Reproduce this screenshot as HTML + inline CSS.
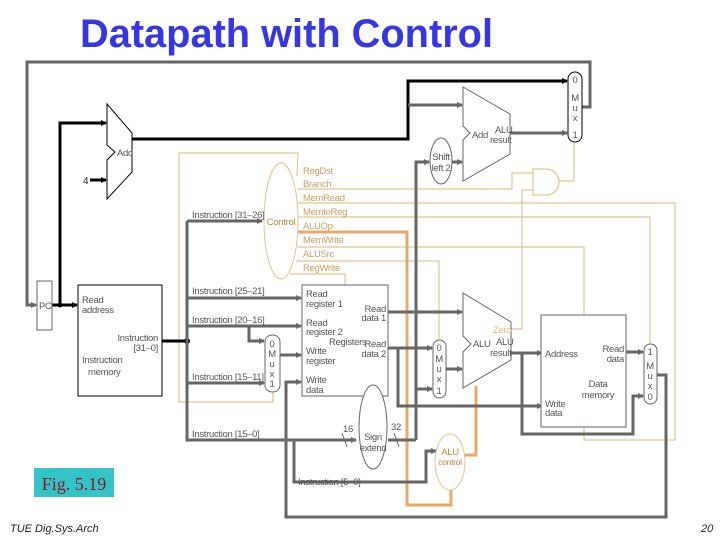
<!DOCTYPE html>
<html><head><meta charset="utf-8"><style>
html,body{margin:0;padding:0;background:#fff}
svg{display:block}
text{font-family:"Liberation Sans",sans-serif}
.s{font-size:9.5px;fill:#555;letter-spacing:-0.3px}
.c{font-size:9.5px;fill:#c9a060;letter-spacing:-0.3px}
.k{fill:none;stroke:#000;stroke-width:3}
.g{fill:none;stroke:#666;stroke-width:3}
.t{fill:none;stroke:#e2c48e;stroke-width:1.2}
.o{fill:none;stroke:#eaa866;stroke-width:3}
.b{fill:#fff;stroke:#666;stroke-width:1}
</style></head><body>
<svg width="720" height="540" viewBox="0 0 720 540" xmlns="http://www.w3.org/2000/svg">
<defs>
<marker id="ag" markerWidth="6" markerHeight="6" refX="5" refY="3" orient="auto" markerUnits="userSpaceOnUse"><path d="M0,0L6,3L0,6z" fill="#666"/></marker>
<marker id="ak" markerWidth="6" markerHeight="6" refX="5" refY="3" orient="auto" markerUnits="userSpaceOnUse"><path d="M0,0L6,3L0,6z" fill="#000"/></marker>
</defs>
<text x="80" y="47" font-size="40" font-weight="bold" fill="#3636e6" textLength="413" lengthAdjust="spacingAndGlyphs" style="font-family:'Liberation Sans',sans-serif">Datapath with Control</text>

<!-- tan control lines -->
<path class="t" d="M297,176 L298,153 L179,153 L179,402 L273,402 L273,392"/>
<path class="t" d="M297,189 L512,189 L512,173 L533,173"/>
<path class="t" d="M533,190 L522,190 L522,329 L500,329"/>
<path class="t" d="M298,203 L675,203 L675,440 L584,440 L584,427"/>
<path class="t" d="M298,217 L650,217 L650,344"/>
<path class="t" d="M298,247 L584,247 L584,315"/>
<path class="t" d="M296,261 L439,261 L439,340"/>
<path class="t" d="M290,274 L345,274 L345,285"/>
<path class="t" d="M557,181 L574,181 L574,142"/>
<path class="o" d="M296,232 L407,232 L407,505 L451,505 L451,490"/>
<path class="o" d="M476,386 L476,455 L463,455"/>

<!-- outer gray loop -->
<path class="g" d="M582,107 L590,107 L590,62 L27,62 L27,305 L36,305" marker-end="url(#ag)"/>
<!-- black PC path -->
<path class="k" d="M52,305 L77,305" marker-end="url(#ak)"/>
<path class="k" d="M60,305 L60,123 L106,123" marker-end="url(#ak)"/>
<path class="k" d="M90,180 L106,180" marker-end="url(#ak)"/>
<path class="k" d="M132,139 L408,139 L408,81 L567,81" marker-end="url(#ak)"/>
<path class="k" d="M162,341 L187,341"/>
<circle cx="187" cy="341" r="3" fill="#000"/>
<circle cx="60" cy="305" r="2.5" fill="#000"/>
<path class="g" d="M408,105 L462,105" marker-end="url(#ag)"/>
<path class="g" d="M510,133 L567,133" marker-end="url(#ag)"/>
<path class="g" d="M452,162 L462,162" marker-end="url(#ag)"/>
<path class="g" d="M416,440 L416,162 L429,162" marker-end="url(#ag)"/>
<path class="g" d="M416,389 L432,389" marker-end="url(#ag)"/>
<!-- instruction bus -->
<path class="g" d="M187,221 L187,440 L356,440" marker-end="url(#ag)"/>
<path class="g" d="M187,221 L262,221" marker-end="url(#ag)"/>
<path class="g" d="M187,298 L301,298" marker-end="url(#ag)"/>
<path class="g" d="M187,326 L301,326" marker-end="url(#ag)"/>
<path class="g" d="M249,326 L249,341 L264,341" marker-end="url(#ag)"/>
<path class="g" d="M187,383 L264,383" marker-end="url(#ag)"/>
<path class="g" d="M280,355 L301,355" marker-end="url(#ag)"/>
<path class="g" d="M294,440 L294,482 L426,482 L426,451 L436,451" marker-end="url(#ag)"/>
<path class="g" d="M388,440 L416,440"/>
<path class="g" d="M657,375 L666,375 L666,517 L286,517 L286,382 L301,382" marker-end="url(#ag)"/>
<path class="g" d="M388,312 L462,312" marker-end="url(#ag)"/>
<path class="g" d="M388,348 L432,348" marker-end="url(#ag)"/>
<path class="g" d="M398,348 L398,406 L542,406" marker-end="url(#ag)"/>
<path class="g" d="M446,369 L462,369" marker-end="url(#ag)"/>
<path class="g" d="M511,353 L542,353" marker-end="url(#ag)"/>
<path class="g" d="M522,353 L522,434 L633,434 L633,396 L643,396" marker-end="url(#ag)"/>
<path class="g" d="M626,352 L643,352" marker-end="url(#ag)"/>
<line x1="342" y1="433" x2="347" y2="447" stroke="#666"/>
<line x1="394" y1="433" x2="399" y2="447" stroke="#666"/>

<!-- components -->
<rect x="37" y="281" width="15" height="49" class="b" stroke="#000"/>
<text x="39" y="309" class="s" fill="#333">PC</text>
<rect x="78" y="285" width="84" height="111" fill="#fff" stroke="#000"/>
<text x="82" y="303" class="s" fill="#222">Read</text><text x="82" y="313" class="s" fill="#222">address</text>
<text x="158" y="341" class="s" fill="#222" text-anchor="end">Instruction</text><text x="158" y="351" class="s" fill="#222" text-anchor="end">[31–0]</text>
<text x="82" y="363" class="s" fill="#222">Instruction</text><text x="88" y="375" class="s" fill="#222">memory</text>

<path d="M107,104 L132,133 L132,172 L107,199 L107,160 L115,152 L107,145 Z" fill="#fff" stroke="#000"/>
<text x="117" y="156" class="s" fill="#222">Add</text>
<text x="83" y="184" font-size="10" fill="#222">4</text>

<path d="M463,87 L510,114 L510,154 L463,181 L463,140 L470,133 L463,126 Z" class="b"/>
<text x="472" y="138" class="s">Add</text>
<text x="495" y="133" class="s">ALU</text><text x="490" y="143" class="s">result</text>
<ellipse cx="441" cy="161" rx="11" ry="23" class="b"/>
<text x="441" y="160" class="s" text-anchor="middle">Shift</text><text x="441" y="171" class="s" text-anchor="middle">left 2</text>

<rect x="568" y="72" width="14" height="70" rx="7" fill="#fff" stroke="#000"/>
<text x="575" y="83" class="s" text-anchor="middle" fill="#222">0</text>
<text x="575" y="101" class="s" text-anchor="middle" fill="#222">M</text>
<text x="575" y="111" class="s" text-anchor="middle" fill="#222">u</text>
<text x="575" y="121" class="s" text-anchor="middle" fill="#222">x</text>
<text x="575" y="138" class="s" text-anchor="middle" fill="#222">1</text>

<path d="M533,169 L546,169 A13,13 0 0 1 546,195 L533,195 Z" fill="#fff" stroke="#e2c48e" stroke-width="1.2"/>

<ellipse cx="281" cy="221" rx="17" ry="58" fill="#fff" stroke="#e2c48e"/>
<text x="281" y="225" class="c" text-anchor="middle" style="fill:#c08838">Control</text>
<text x="303" y="174" class="c">RegDst</text>
<text x="303" y="187" class="c">Branch</text>
<text x="303" y="201" class="c">MemRead</text>
<text x="303" y="215" class="c">MemtoReg</text>
<text x="303" y="229" class="c">ALUOp</text>
<text x="303" y="243" class="c">MemWrite</text>
<text x="303" y="257" class="c">ALUSrc</text>
<text x="303" y="271" class="c">RegWrite</text>

<text x="192" y="218" class="s" fill="#333">Instruction [31–26]</text>
<text x="192" y="294" class="s" fill="#333">Instruction [25–21]</text>
<text x="192" y="323" class="s" fill="#333">Instruction [20–16]</text>
<text x="192" y="380" class="s" fill="#333">Instruction [15–11]</text>
<text x="192" y="437" class="s" fill="#333">Instruction [15–0]</text>
<text x="298" y="485" class="s" fill="#333">Instruction [5–0]</text>

<rect x="265" y="335" width="15" height="57" rx="7" class="b"/>
<text x="272" y="347" class="s" text-anchor="middle">0</text>
<text x="272" y="357" class="s" text-anchor="middle">M</text>
<text x="272" y="367" class="s" text-anchor="middle">u</text>
<text x="272" y="377" class="s" text-anchor="middle">x</text>
<text x="272" y="387" class="s" text-anchor="middle">1</text>

<rect x="302" y="285" width="86" height="111" class="b"/>
<text x="306" y="297" class="s">Read</text><text x="306" y="307" class="s">register 1</text>
<text x="306" y="326" class="s">Read</text><text x="306" y="335" class="s">register 2</text>
<text x="329" y="345" class="s">Registers</text>
<text x="306" y="354" class="s">Write</text><text x="306" y="364" class="s">register</text>
<text x="306" y="383" class="s">Write</text><text x="306" y="393" class="s">data</text>
<text x="386" y="312" class="s" text-anchor="end">Read</text><text x="386" y="321" class="s" text-anchor="end">data 1</text>
<text x="386" y="347" class="s" text-anchor="end">Read</text><text x="386" y="357" class="s" text-anchor="end">data 2</text>

<ellipse cx="373" cy="427" rx="14" ry="42" class="b"/>
<text x="373" y="440" class="s" text-anchor="middle">Sign</text><text x="373" y="451" class="s" text-anchor="middle">extend</text>
<text x="343" y="432" class="s">16</text>
<text x="391" y="430" class="s">32</text>

<rect x="433" y="340" width="13" height="58" rx="6.5" class="b"/>
<text x="439" y="351" class="s" text-anchor="middle">0</text>
<text x="439" y="362" class="s" text-anchor="middle">M</text>
<text x="439" y="372" class="s" text-anchor="middle">u</text>
<text x="439" y="382" class="s" text-anchor="middle">x</text>
<text x="439" y="394" class="s" text-anchor="middle">1</text>

<path d="M463,293 L511,322 L511,360 L463,388 L463,352 L471,344 L463,336 Z" class="b"/>
<text x="473" y="347" class="s">ALU</text>
<text x="496" y="345" class="s">ALU</text><text x="490" y="356" class="s">result</text>
<text x="493" y="333" class="c" style="fill:#e0b880">Zero</text>

<ellipse cx="450" cy="462" rx="15" ry="28" fill="#fff" stroke="#e2c48e"/>
<text x="450" y="455" class="c" text-anchor="middle" style="fill:#c08838">ALU</text><text x="450" y="465" class="c" text-anchor="middle" style="fill:#c08838;font-size:8.5px">control</text>

<rect x="541" y="315" width="85" height="112" class="b"/>
<text x="545" y="357" class="s">Address</text>
<text x="624" y="352" class="s" text-anchor="end">Read</text><text x="624" y="362" class="s" text-anchor="end">data</text>
<text x="598" y="387" class="s" text-anchor="middle">Data</text><text x="598" y="398" class="s" text-anchor="middle">memory</text>
<text x="545" y="407" class="s">Write</text><text x="545" y="416" class="s">data</text>

<rect x="644" y="344" width="13" height="60" rx="6.5" class="b"/>
<text x="650" y="355" class="s" text-anchor="middle">1</text>
<text x="650" y="369" class="s" text-anchor="middle">M</text>
<text x="650" y="379" class="s" text-anchor="middle">u</text>
<text x="650" y="389" class="s" text-anchor="middle">x</text>
<text x="650" y="400" class="s" text-anchor="middle">0</text>

<rect x="34" y="468" width="80" height="29" fill="#33c4c8"/>
<text x="74" y="490" text-anchor="middle" font-size="18" fill="#8b1a1a" style="font-family:'Liberation Serif',serif">Fig. 5.19</text>
<text x="10" y="532" font-size="11" font-style="italic" fill="#222">TUE Dig.Sys.Arch</text>
<text x="701" y="532" font-size="11" font-style="italic" fill="#222">20</text>
</svg>
</body></html>
